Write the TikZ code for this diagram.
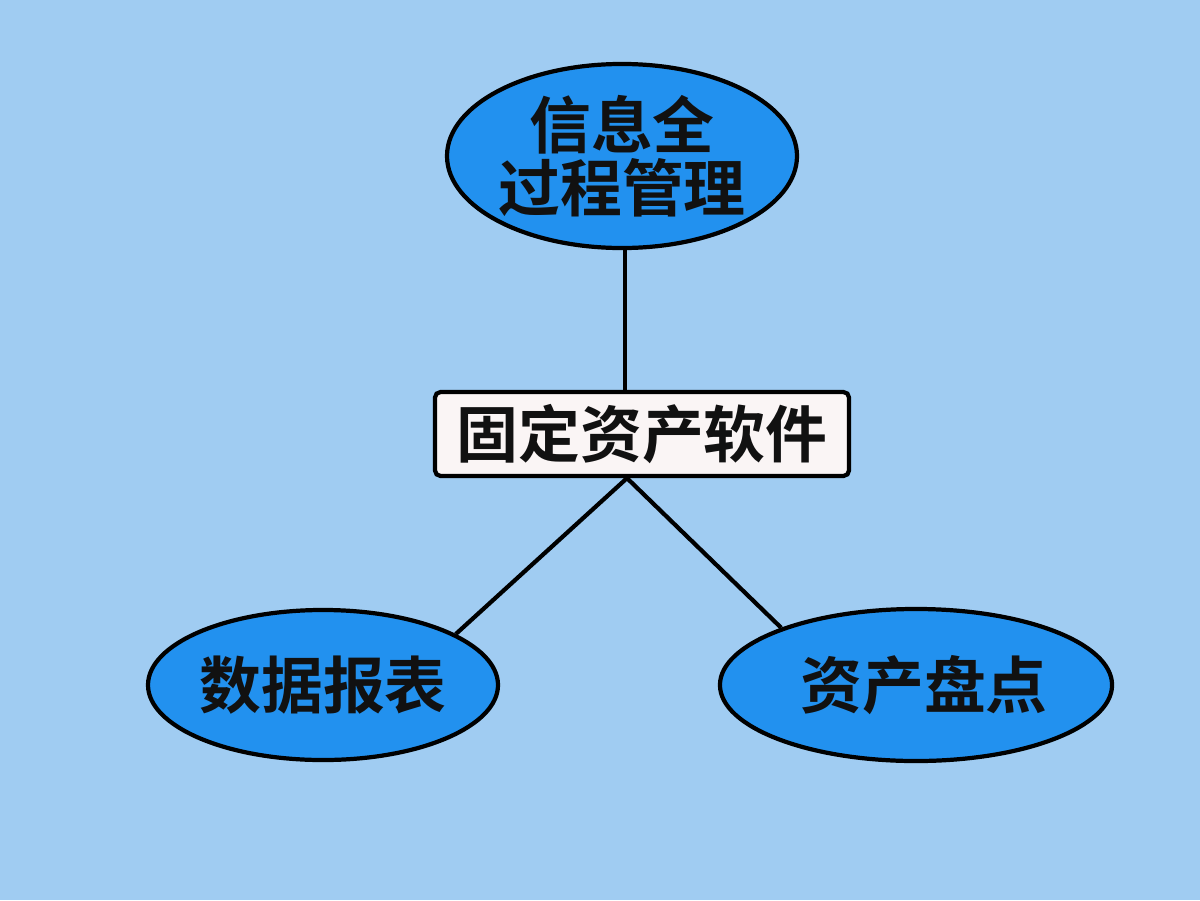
\documentclass[tikz,border=0pt]{standalone}
\usepackage{fontspec}
\newfontfamily\cjk{Noto Sans CJK SC}[BoldFont={Noto Sans CJK SC Bold}]
\usetikzlibrary{shapes.geometric}
\usepackage{xcolor}
\definecolor{skybg}{HTML}{A0CCF2}
\definecolor{bubbleblue}{HTML}{2291EF}
\definecolor{paperwhite}{HTML}{FAF5F5}
\definecolor{inkdark}{HTML}{111111}

\begin{document}
\begin{tikzpicture}[x=0.025cm, y=-0.025cm,
  bubble/.style={ellipse, draw=black, line width=3pt, fill=bubbleblue, inner sep=0pt,
    text=inkdark, font=\cjk\bfseries\fontsize{44}{47}\selectfont, align=center},
  softbox/.style={rectangle, draw=black, line width=3pt, fill=paperwhite, rounded corners=4pt,
    minimum width=10.35cm, minimum height=2.1cm, inner sep=0pt,
    text=inkdark, font=\cjk\bfseries\fontsize{44}{47}\selectfont},
  link/.style={black, line width=3pt}]

  % Light blue canvas
  \fill[skybg] (0,0) rectangle (1200,900);
  \useasboundingbox (0,0) rectangle (1200,900);

  % Nodes
  \node[bubble, minimum width=8.45cm, minimum height=4.6cm] (lifecycle) at (622,156) {\raisebox{-2pt}{信息全}\\过程管理};
  \node[softbox] (software) at (642,434) {固定资产软件};
  \node[bubble, minimum width=8.65cm, minimum height=3.75cm] (report) at (323,685) {数据报表};
  \node[bubble, minimum width=9.8cm, minimum height=3.8cm] (stocktake) at (916,685) {\hspace{0.4cm}资产盘点};

  % Connectors
  \draw[link] (lifecycle.south -| 625,0) -- (software.north -| 625,0);
  \draw[link] (software.south -| 627,0) -- (report.21);
  \draw[link] (software.south -| 627,0) -- (stocktake.157);

\end{tikzpicture}
\end{document}
